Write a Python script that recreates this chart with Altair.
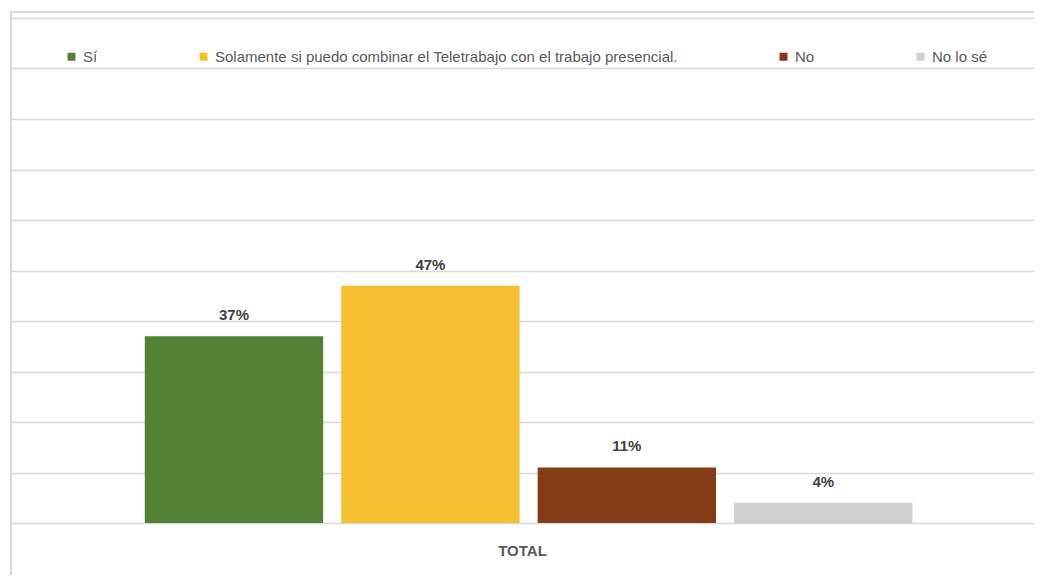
import altair as alt
import pandas as pd

# ---- data ----
grupos = ["TOTAL", "TOTAL", "TOTAL", "TOTAL"]
respuestas = [
    "Sí",
    "Solamente si puedo combinar el Teletrabajo con el trabajo presencial.",
    "No",
    "No lo sé",
]
valores = [37, 47, 11, 4]
etiquetas = ["37%", "47%", "11%", "4%"]
colores = ["#548235", "#F5C02F", "#843C17", "#D0CECE"]
marcas_eje = [0, 10, 20, 30, 40, 50, 60, 70, 80, 90, 100]

df = pd.DataFrame({
    "grupo": grupos,
    "respuesta": respuestas,
    "valor": valores,
    "etiqueta": etiquetas,
})

W, H = 1023, 505

x_enc = alt.X(
    "grupo:N",
    scale=alt.Scale(paddingInner=0, paddingOuter=0),
    axis=alt.Axis(
        title=None, labelAngle=0, domain=False, ticks=False,
        labelFontSize=15, labelFontWeight="bold", labelColor="#595959",
        labelPadding=20,
    ),
)
xo_enc = alt.XOffset(
    "respuesta:N", sort=respuestas,
    scale=alt.Scale(paddingInner=0.092, paddingOuter=0.65, align=0.524),
)
y_enc = alt.Y(
    "valor:Q",
    scale=alt.Scale(domain=[0, 100], nice=False),
    axis=alt.Axis(
        title=None, labels=False, ticks=False, domain=False,
        values=marcas_eje, grid=True, gridColor="#D9D9D9", gridWidth=1.5,
    ),
)

base = alt.Chart(df)

barras = base.mark_bar().encode(
    x=x_enc,
    xOffset=xo_enc,
    y=y_enc,
    color=alt.Color(
        "respuesta:N", sort=respuestas,
        scale=alt.Scale(domain=respuestas, range=colores),
        legend=alt.Legend(
            title=None, orient="none", legendX=53, legendY=31,
            direction="horizontal", symbolType="square", symbolSize=64,
            symbolStrokeWidth=0, labelFontSize=15, labelColor="#595959",
            labelOffset=4, columnPadding=98, labelLimit=900,
        ),
    ),
)

textos = base.mark_text(
    dy=-16, baseline="alphabetic", fontSize=15, fontWeight="bold",
    color="#404040",
).encode(
    x=x_enc,
    xOffset=xo_enc,
    y=y_enc,
    text="etiqueta:N",
)

marco = alt.Chart(pd.DataFrame({"m": [1]}))
borde_izq = marco.mark_rule(color="#D9D9D9", strokeWidth=2).encode(
    x=alt.value(0), y=alt.value(-6), y2=alt.value(H + 52)
)
borde_sup = marco.mark_rule(color="#D9D9D9", strokeWidth=2).encode(
    x=alt.value(-1), x2=alt.value(W), y=alt.value(-6)
)

chart = alt.layer(barras, textos, borde_izq, borde_sup).properties(
    width=W, height=H,
    padding={"left": 3, "top": 10, "right": 0, "bottom": 52},
    autosize=alt.AutoSizeParams(type="none"),
).configure(
    font="Liberation Sans",
).configure_view(stroke=None)

chart.save("out.html", embed_options={"renderer": "svg", "actions": False})
